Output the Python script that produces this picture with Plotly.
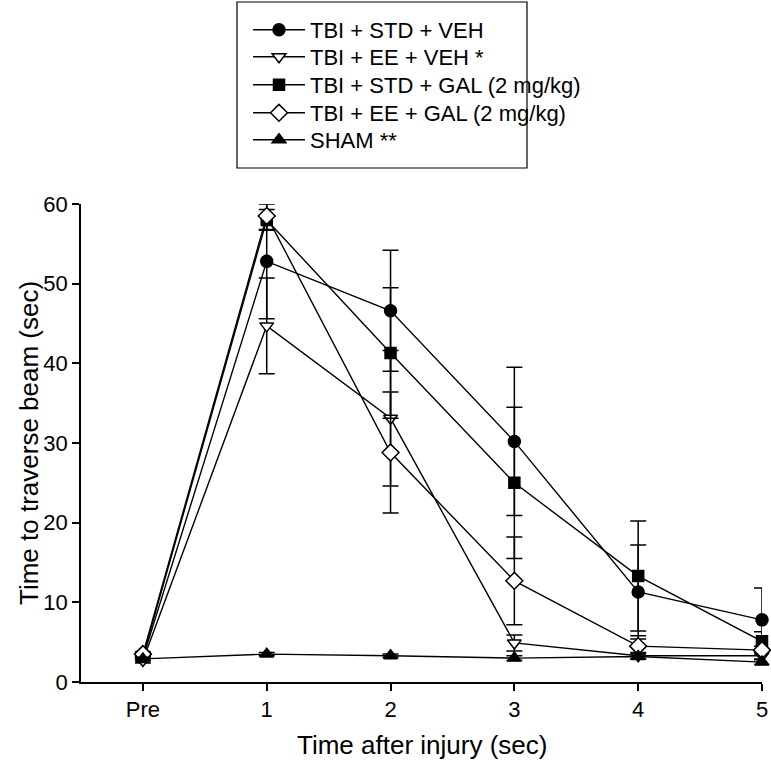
import plotly.graph_objects as go

x_labels = ["Pre", "1", "2", "3", "4", "5"]
x_pos = [0, 1, 2, 3, 4, 5]

names = ["TBI + STD + VEH", "TBI + EE + VEH *", "TBI + STD + GAL (2 mg/kg)",
         "TBI + EE + GAL (2 mg/kg)", "SHAM **"]

x_title = "Time after injury (sec)"
y_title = "Time to traverse beam (sec)"

std_veh = [3.0, 52.8, 46.6, 30.2, 11.3, 7.8]
std_veh_err = [0.3, 7.2, 7.6, 9.3, 5.9, 4.0]

ee_veh = [2.7, 44.7, 33.1, 4.9, 3.3, 3.3]
ee_veh_err = [0.3, 6.0, 8.5, 1.0, 0.4, 0.4]

std_gal = [3.2, 58.0, 41.3, 25.0, 13.3, 5.1]
std_gal_err = [0.3, 1.3, 8.2, 9.5, 6.9, 1.2]

ee_gal = [3.5, 58.5, 28.8, 12.7, 4.5, 4.0]
ee_gal_err = [0.3, 1.7, 7.6, 5.5, 1.3, 0.5]

sham = [2.9, 3.5, 3.3, 3.0, 3.2, 2.5]
sham_err = [0.2, 0.2, 0.2, 0.3, 0.3, 0.3]

series = [
    (std_veh, std_veh_err, "circle", "black", 12),
    (ee_veh, ee_veh_err, "triangle-down", "white", 12),
    (std_gal, std_gal_err, "square", "black", 11),
    (ee_gal, ee_gal_err, "diamond", "white", 13),
    (sham, sham_err, "triangle-up", "black", 12),
]

FONT = "Liberation Sans, Arial, sans-serif"
W, H = 771, 762
L, R, T, B = 81, 9, 204, 80
PW, PH = W - L - R, H - T - B
legend_rows_px = [30, 57, 85, 113, 140]

fig = go.Figure()
legend_keys = ["legend", "legend2", "legend3", "legend4", "legend5"]
for name, (vals, errs, sym, fill, sz), lk in zip(names, series, legend_keys):
    fig.add_trace(go.Scatter(
        x=x_pos, y=vals, name=name, mode="lines+markers",
        line=dict(color="black", width=1.4),
        marker=dict(symbol=sym, size=sz, color=fill,
                    line=dict(color="black", width=1.5)),
        error_y=dict(type="data", array=errs, visible=True,
                     color="black", thickness=1.5, width=8),
        cliponaxis=False, legend=lk,
    ))

fig.add_shape(type="rect", xref="paper", yref="paper",
              x0=(237 - L) / PW, x1=(527 - L) / PW,
              y0=1 + (T - 168) / PH, y1=1 + (T - 2) / PH,
              line=dict(color="black", width=1.2), fillcolor="rgba(0,0,0,0)")

fig.add_annotation(text=x_title, xref="paper", yref="paper",
                   x=0.5, y=-(745 - (T + PH)) / PH, showarrow=False,
                   xanchor="center", yanchor="middle",
                   font=dict(family=FONT, size=26, color="black"))
fig.add_annotation(text=y_title, xref="paper", yref="paper",
                   x=(29 - L) / PW, y=0.5, showarrow=False, textangle=-90,
                   xanchor="center", yanchor="middle",
                   font=dict(family=FONT, size=26, color="black"))

legends = {}
for lk, py in zip(legend_keys, legend_rows_px):
    legends[lk] = dict(
        xref="container", yref="container",
        x=248 / W, y=1 - py / H, xanchor="left", yanchor="middle",
        font=dict(family=FONT, size=22, color="black"),
        bgcolor="rgba(0,0,0,0)", borderwidth=0, itemwidth=52,
    )

fig.update_layout(
    width=W, height=H,
    margin=dict(l=L, r=R, t=T, b=B, pad=0, autoexpand=False),
    paper_bgcolor="white", plot_bgcolor="white",
    font=dict(family=FONT, color="black", size=22),
    showlegend=True,
    **legends,
    xaxis=dict(range=[-0.5, 5.0], tickmode="array", tickvals=x_pos,
               ticktext=x_labels, showgrid=False, zeroline=False,
               showline=True, linecolor="black", linewidth=1.5,
               ticks="outside", ticklen=7, tickwidth=1.5, tickcolor="black",
               tickfont=dict(size=22), automargin=False),
    yaxis=dict(range=[0, 60], tickmode="linear", tick0=0, dtick=10,
               showgrid=False, zeroline=False,
               showline=True, linecolor="black", linewidth=1.5,
               ticks="outside", ticklen=7, tickwidth=1.5, tickcolor="black",
               tickfont=dict(size=22), automargin=False),
)

fig.write_html("out.html", config={"displayModeBar": False},
               post_script="document.body.style.margin='0';"
                           "document.body.style.padding='0';")
